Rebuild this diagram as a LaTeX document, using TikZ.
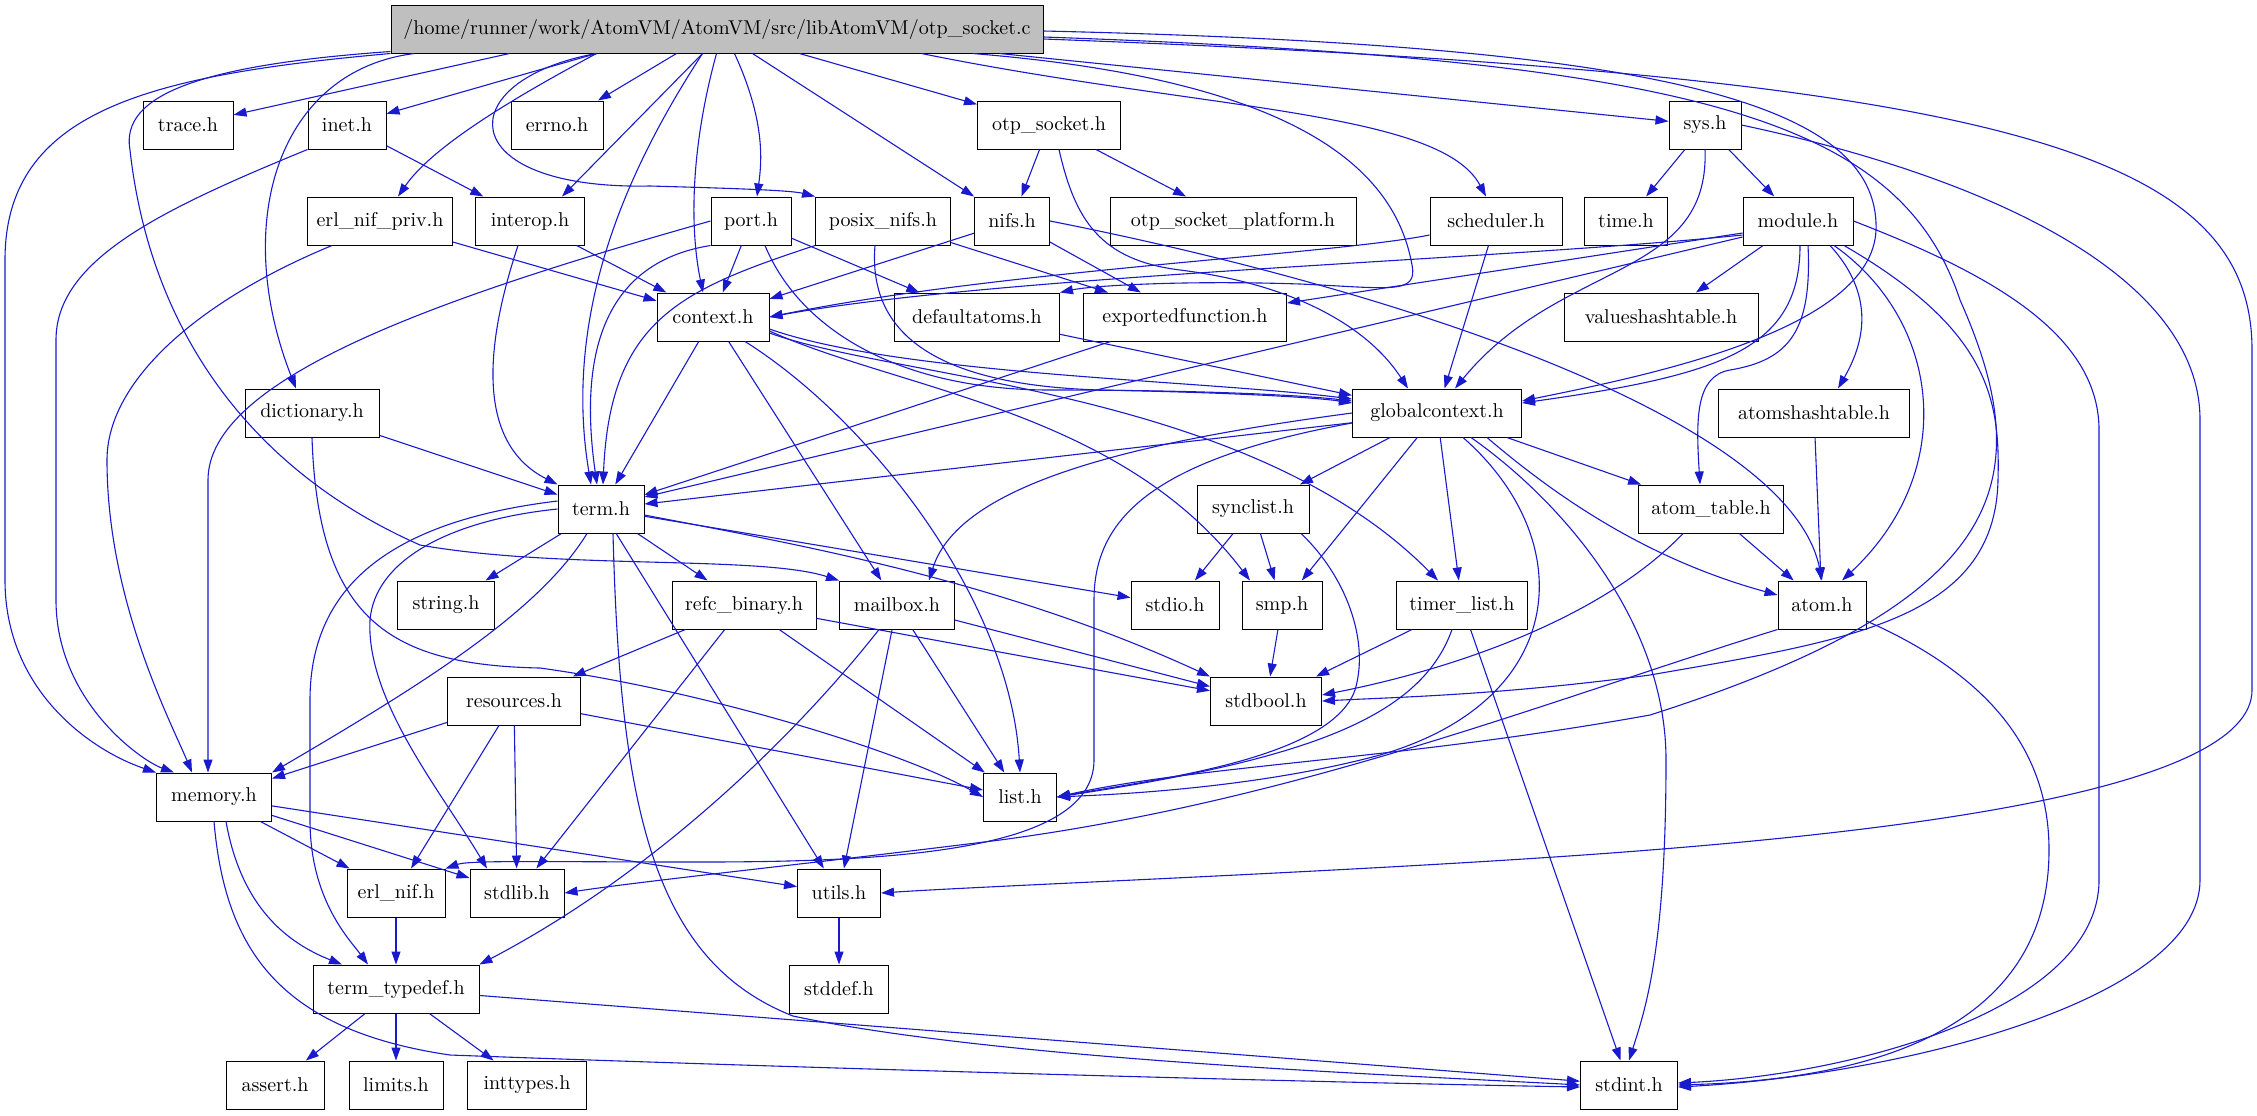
\documentclass[tikz,border=0pt]{standalone}
\usetikzlibrary{arrows.meta}
\definecolor{inclblue}{RGB}{25,25,205}
\definecolor{srcgray}{RGB}{191,191,191}

\begin{document}
\begin{tikzpicture}[x=0.5pt, y=-0.5pt, >={Triangle[length=6.5pt,width=4.5pt]},
	every node/.style={font=\fontsize{10}{12}\selectfont},
	hdr/.style={draw=black, fill=white, line width=0.5pt, minimum height=24pt, inner sep=0pt},
	incl/.style={->, draw=inclblue, line width=0.55pt}]
	\useasboundingbox (0,0) rectangle (2257,1115);
	\node[hdr, fill=srcgray, minimum width=326pt] (src) at (717,29) {/home/runner/work/AtomVM/AtomVM/src/libAtomVM/otp\_socket.c};
	\foreach \n/\x/\y/\w/\lbl in {
		trace/188/125/45/trace.h, inet/347/125/39/inet.h, errno/557/125/46/errno.h,
		otpsock/1049/125/71.5/otp\_socket.h, sys/1705/125/36/sys.h,
		erlnifpriv/380/221/72.5/erl\_nif\_priv.h, interop/530/221/54.5/interop.h, port/751/221/40/port.h,
		posixnifs/883/221/67.5/posix\_nifs.h, nifs/1012/221/37.5/nifs.h,
		otpsockplat/1233/221/123/otp\_socket\_platform.h, scheduler/1496/221/66/scheduler.h,
		time/1626/221/41.5/time.h, module/1798/221/55/module.h,
		context/713/317/56/context.h, defaultatoms/977/317/82.5/defaultatoms.h,
		exportedfn/1185/317/101.5/exportedfunction.h, valueshashtable/1661/317/97/valueshashtable.h,
		dictionary/312/413/67/dictionary.h, globalcontext/1437/413/84.5/globalcontext.h,
		atomshashtable/1814/413/95.5/atomshashtable.h,
		term/601/509/43/term.h, synclist/1253/509/56/synclist.h, atomtable/1711/509/72.5/atom\_table.h,
		string/446/605/48.5/string.h, refcbinary/744/605/72/refc\_binary.h, mailbox/897/605/57.5/mailbox.h,
		stdio/1175/605/44/stdio.h, smp/1282/605/40/smp.h, timerlist/1462/605/65.5/timer\_list.h,
		atom/1822/605/44/atom.h,
		resources/514/701/66.5/resources.h, stdbool/1266/701/55.5/stdbool.h,
		memory/214/797/57.5/memory.h, list/1020/797/36.5/list.h,
		erlnif/396/893/49/erl\_nif.h, stdlib/517/893/47/stdlib.h, utils/839/893/41.5/utils.h,
		termtypedef/396/989/83/term\_typedef.h, stddef/839/989/49.5/stddef.h,
		assert/275/1085/49/assert.h, limits/396/1085/47/limits.h, inttypes/527/1085/59.5/inttypes.h,
		stdint/1629/1085/48.5/stdint.h} {
		\node[hdr, minimum width=\w pt] (\n) at (\x,\y) {\lbl};
	}
	\foreach \a/\b in {inet/interop, erlnifpriv/context, interop/context, port/context, port/defaultatoms,
		posixnifs/exportedfn, nifs/context, nifs/exportedfn, otpsock/nifs, otpsock/otpsockplat,
		sys/time, sys/module, scheduler/globalcontext, module/valueshashtable, defaultatoms/globalcontext,
		exportedfn/term, dictionary/term, context/term, context/mailbox, globalcontext/term,
		globalcontext/synclist, globalcontext/smp, globalcontext/timerlist, globalcontext/atomtable,
		atomshashtable/atom, atomtable/atom, term/string, term/refcbinary, term/stdio, term/utils,
		synclist/stdio, synclist/smp, refcbinary/resources, refcbinary/list, refcbinary/stdbool,
		refcbinary/stdlib, mailbox/list, mailbox/stdbool, mailbox/utils, smp/stdbool, timerlist/stdbool,
		timerlist/stdint, resources/memory, resources/erlnif, resources/stdlib, resources/list,
		memory/erlnif, memory/stdlib, memory/utils, erlnif/termtypedef, utils/stddef,
		termtypedef/assert, termtypedef/limits, termtypedef/inttypes, termtypedef/stdint} {
		\draw[incl] (\a) -- (\b);
	}
	% otp_socket.c
	\draw[incl] ([xshift=59.5pt]src.south west) -- (trace);
	\draw[incl] ([xshift=103pt]src.south west) -- (inet);
	\draw[incl] ([xshift=143pt]src.south west) -- (errno);
	\draw[incl] ([xshift=204.5pt]src.south west) -- (otpsock);
	\draw[incl] ([xshift=304.5pt]src.south west) -- (sys);
	\draw[incl] ([xshift=181pt]src.south west) -- (nifs);
	\draw[incl] ([xshift=156pt]src.south west) -- ([xshift=16pt]interop.north);
	\draw[incl] ([xshift=103pt]src.south west) .. controls (500,105) and (430,150) .. ([xshift=9pt]erlnifpriv.north);
	\draw[incl] ([xshift=103pt]src.south west) .. controls (450,80) and (450,190) .. (650,186) .. controls (720,188) and (790,190) .. (posixnifs.north west);
	\draw[incl] ([xshift=163pt]src.south west) .. controls (690,150) and (690,230) .. ([xshift=-5pt]context.north);
	\draw[incl] ([xshift=156pt]src.south west) .. controls (640,150) and (560,300) .. ([xshift=-5pt]term.north);
	\draw[incl] ([xshift=172pt]src.south west) .. controls (765,120) and (762,160) .. ([xshift=3pt]port.north);
	\draw[incl] ([xshift=12pt]src.south west) .. controls (280,70) and (230,220) .. ([xshift=-8pt]dictionary.north);
	\draw[incl] (src.south west) .. controls (150,75) and (5,110) .. (5,260) -- (5,580) .. controls (5,690) and (90,750) .. (memory.north west);
	\draw[incl] ([yshift=1pt]src.south west) .. controls (200,65) and (120,95) .. (130,150) .. controls (150,330) and (250,470) .. (420,545) .. controls (560,570) and (760,555) .. (mailbox.north west);
	\draw[incl] ([xshift=265.5pt]src.south west) .. controls (1200,110) and (1440,110) .. ([xshift=-5pt]scheduler.north);
	\draw[incl] ([xshift=291pt]src.south west) .. controls (1300,80) and (1395,170) .. (1412,265) .. controls (1418,295) and (1390,288) .. (1300,284) .. controls (1180,280) and (1090,286) .. (defaultatoms.north east);
	\draw[incl] ([yshift=-1pt]src.east) .. controls (1650,45) and (1880,100) .. (1876,230) .. controls (1872,330) and (1650,375) .. ([yshift=6pt]globalcontext.east);
	\draw[incl] ([yshift=-4pt]src.east) .. controls (1700,60) and (1900,120) .. (1960,300) .. controls (2040,480) and (2010,600) .. (1650,715) .. controls (1400,760) and (1200,765) .. (list.east);
	\draw[incl] ([yshift=-5pt]src.east) .. controls (2000,75) and (2252,150) .. (2252,350) -- (2252,690) .. controls (2252,790) and (1900,830) .. (1650,850) .. controls (1400,870) and (1000,885) .. (utils.east);
	% headers
	\draw[incl] (inet.south west) .. controls (160,210) and (56,260) .. (56,340) -- (56,600) .. controls (56,700) and (140,760) .. ([xshift=-20pt]memory.north);
	\draw[incl] ([xshift=-24pt]erlnifpriv.south) .. controls (200,300) and (107,380) .. (107,460) .. controls (107,600) and (170,720) .. ([xshift=-11pt]memory.north);
	\draw[incl] ([xshift=-6pt]interop.south) .. controls (490,330) and (470,440) .. (term.north west);
	\draw[incl] (port.west) .. controls (430,300) and (208,380) .. (208,480) -- ([xshift=-3pt]memory.north);
	\draw[incl] (port.south west) .. controls (620,260) and (575,330) .. ([xshift=-2pt]term.north);
	\draw[incl] ([xshift=7pt]port.south) .. controls (800,330) and (900,390) .. (1050,390) .. controls (1200,390) and (1300,395) .. ([yshift=6pt]globalcontext.west);
	\draw[incl] (posixnifs.south west) .. controls (680,290) and (610,320) .. ([xshift=1pt]term.north);
	\draw[incl] ([xshift=-4pt]posixnifs.south) .. controls (868,330) and (930,385) .. (1100,390) .. controls (1250,393) and (1320,398) .. ([yshift=5pt]globalcontext.west);
	\draw[incl] (nifs.east) .. controls (1400,290) and (1790,420) .. (atom.north);
	\draw[incl] ([xshift=5pt]otpsock.south) .. controls (1075,220) and (1100,260) .. (1180,270) .. controls (1300,285) and (1370,330) .. ([xshift=-14.5pt]globalcontext.north);
	\draw[incl] (sys.south) .. controls (1710,280) and (1560,260) .. ([xshift=9pt]globalcontext.north);
	\draw[incl] ([yshift=-7pt]scheduler.west) .. controls (1330,255) and (1000,270) .. (context.east);
	\draw[incl] ([yshift=-7pt]module.west) .. controls (1500,260) and (1000,275) .. (context.east);
	\draw[incl] ([yshift=-6pt]module.west) -- ([yshift=7pt]exportedfn.east);
	\draw[incl] ([yshift=-8pt]module.west) -- ([yshift=6pt]term.east);
	\draw[incl] ([xshift=1pt]module.south) .. controls (1800,350) and (1720,375) .. ([yshift=5pt]globalcontext.east);
	\draw[incl] ([xshift=16pt]module.south) .. controls (1880,300) and (1860,350) .. ([xshift=12pt]atomshashtable.north);
	\draw[incl] ([xshift=5pt]module.south) .. controls (1812,330) and (1790,360) .. (1730,370) .. controls (1695,376) and (1696,420) .. ([xshift=-5.5pt]atomtable.north);
	\draw[incl] ([xshift=18pt]module.south) .. controls (1940,320) and (1960,470) .. ([xshift=10pt]atom.north);
	\draw[incl] ([xshift=23pt]module.south) .. controls (1990,330) and (2000,400) .. (1998,480) .. controls (1995,620) and (1850,640) .. (1650,675) .. controls (1500,695) and (1400,697) .. (stdbool.east);
	\draw[incl] (module.east) .. controls (1980,270) and (2099,330) .. (2099,430) -- (2099,880) .. controls (2099,1010) and (1850,1075) .. ([yshift=1pt]stdint.east);
	\draw[incl] (sys.east) .. controls (2000,180) and (2200,280) .. (2200,420) -- (2200,880) .. controls (2200,1000) and (1900,1075) .. ([yshift=-1pt]stdint.east);
	\draw[incl] ([yshift=-8pt]atom.east) .. controls (2000,680) and (2049,760) .. (2049,850) .. controls (2049,1040) and (1850,1080) .. (stdint.east);
	\draw[incl] ([yshift=-6pt]context.east) .. controls (900,375) and (1200,380) .. ([yshift=7pt]globalcontext.west);
	\draw[incl] ([yshift=-7pt]context.east) .. controls (900,390) and (1120,410) .. ([xshift=-16pt]smp.north);
	\draw[incl] ([yshift=-8pt]context.east) .. controls (900,380) and (1250,390) .. ([xshift=-12pt]timerlist.north);
	\draw[incl] ([xshift=16pt]context.south) .. controls (870,420) and (1010,600) .. (list.north);
	\draw[incl] (dictionary.south) .. controls (318,620) and (390,665) .. (540,668) .. controls (700,690) and (900,750) .. (list.west);
	\draw[incl] ([yshift=-5pt]globalcontext.west) .. controls (1150,460) and (1094,520) .. (1094,600) -- (1094,760) .. controls (1094,850) and (900,862) .. (700,862) .. controls (550,862) and (470,860) .. (erlnif.north east);
	\draw[incl] (globalcontext.west) .. controls (1150,440) and (960,480) .. ([xshift=16pt]mailbox.north);
	\draw[incl] ([xshift=25pt]globalcontext.south) .. controls (1560,500) and (1650,560) .. ([yshift=5pt]atom.west);
	\draw[incl] ([xshift=13pt]globalcontext.south) .. controls (1580,540) and (1570,700) .. (1380,755) .. controls (1250,790) and (1100,795) .. (list.east);
	\draw[incl] ([xshift=17pt]globalcontext.south) .. controls (1560,500) and (1666,620) .. (1666,760) .. controls (1666,950) and (1645,1010) .. (stdint.north);
	\draw[incl] ([yshift=-3pt]term.east) .. controls (800,545) and (1000,580) .. (stdbool.north west);
	\draw[incl] ([xshift=-7pt]term.south) .. controls (540,610) and (430,680) .. (memory.north east);
	\draw[incl] (term.west) .. controls (450,520) and (375,560) .. (370,620) .. controls (366,700) and (440,790) .. ([xshift=-15pt]stdlib.north);
	\draw[incl] ([yshift=4pt]term.west) .. controls (400,520) and (310,580) .. (310,700) -- (310,820) .. controls (310,900) and (350,940) .. ([xshift=-14pt]termtypedef.north);
	\draw[incl] ([xshift=6pt]term.south) .. controls (620,800) and (650,960) .. (793,1016) .. controls (1000,1060) and (1400,1075) .. (stdint.west);
	\draw[incl] (memory.south) .. controls (225,950) and (280,1030) .. (450,1055) .. controls (800,1068) and (1300,1082) .. ([yshift=-1pt]stdint.west);
	\draw[incl] ([xshift=6pt]memory.south) .. controls (240,900) and (280,940) .. ([xshift=-27pt]termtypedef.north);
	\draw[incl] ([xshift=-9pt]mailbox.south) .. controls (800,730) and (660,870) .. (termtypedef.north east);
	\draw[incl] ([xshift=24pt]synclist.south) .. controls (1345,575) and (1370,640) .. (1355,690) .. controls (1330,760) and (1150,780) .. (list.east);
	\draw[incl] ([xshift=-14pt]atomtable.south) .. controls (1600,620) and (1450,670) .. ([yshift=3pt]stdbool.east);
	\draw[incl] ([xshift=-5pt]timerlist.south) .. controls (1420,720) and (1300,760) .. (list.east);
	\draw[incl] (atom.south west) .. controls (1550,700) and (1300,800) .. (1000,840) .. controls (800,865) and (650,880) .. (stdlib.east);
\end{tikzpicture}
\end{document}
